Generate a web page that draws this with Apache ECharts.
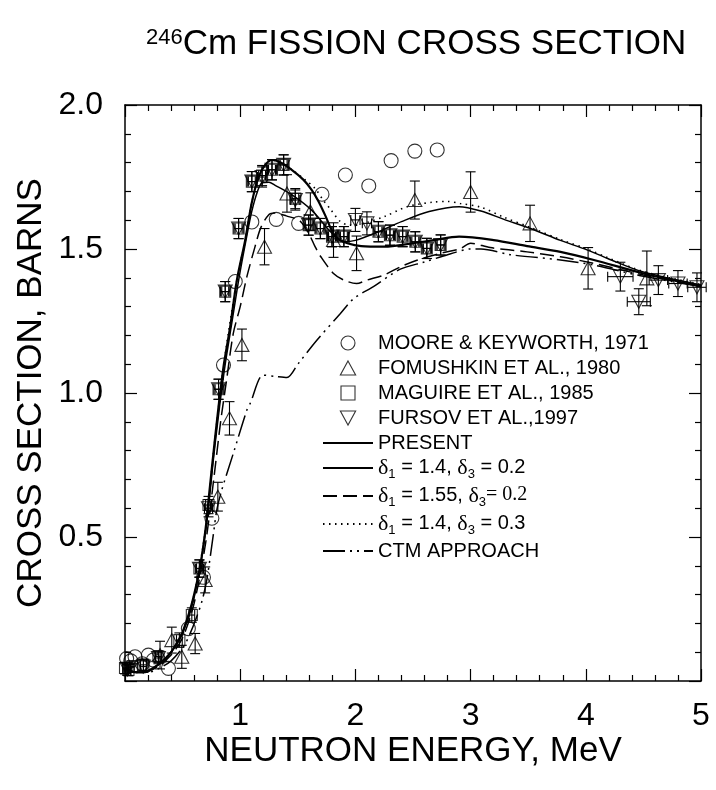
<!DOCTYPE html>
<html>
<head>
<meta charset="utf-8">
<script src="https://cdn.jsdelivr.net/npm/echarts@6/dist/echarts.min.js"></script>
<style>
html,body{margin:0;padding:0;background:#fff;}
#chart{width:716px;height:790px;}
</style>
</head>
<body>
<div id="chart"></div>
<script>
// ---------- DATA ----------
const xTicks = [0, 1, 2, 3, 4, 5];
const yTicks = [0, 0.5, 1.0, 1.5, 2.0];

// Moore & Keyworth, 1971  [E (MeV), sigma (b)]
const moore = [
  [0.014,0.078],[0.05,0.07],[0.087,0.084],[0.15,0.06],[0.203,0.09],[0.246,0.073],
  [0.377,0.044],[0.55,0.182],[0.681,0.36],[0.754,0.565],[0.855,1.097],[0.957,1.387],
  [1.101,1.594],[1.313,1.603],[1.507,1.589],[1.71,1.69],[1.913,1.757],[2.116,1.719],
  [2.31,1.807],[2.516,1.84],[2.71,1.844]
];
// Fomushkin et al., 1980  [E, sigma, dSigma]
const fomushkin = [
  [0.304,0.09,0.048],[0.406,0.142,0.045],[0.493,0.084,0.04],[0.609,0.13,0.035],
  [0.696,0.351,0.045],[0.806,0.64,0.05],[0.907,0.912,0.058],[1.015,1.167,0.055],
  [1.211,1.508,0.063],[1.406,1.693,0.065],[1.609,1.63,0.065],[1.81,1.531,0.06],
  [2.01,1.485,0.06],[2.516,1.67,0.066],[3.0,1.698,0.07],[3.516,1.589,0.063],
  [4.02,1.433,0.072],[4.53,1.398,0.095]
];
// Maguire et al., 1985  [E, sigma, dE, dSigma]
const maguire = [
  [0.0,0.045,0.02,0.02],[0.03,0.038,0.02,0.02],[0.06,0.05,0.02,0.02],[0.16,0.056,0.025,0.02],
  [0.29,0.085,0.025,0.02],[0.472,0.142,0.025,0.025],[0.58,0.229,0.025,0.025],[0.646,0.391,0.025,0.03],
  [0.725,0.611,0.025,0.03],[0.812,1.013,0.03,0.035],[0.87,1.352,0.03,0.035],[0.986,1.571,0.03,0.035],
  [1.101,1.734,0.03,0.035],[1.19,1.755,0.03,0.035],[1.276,1.775,0.03,0.035],[1.377,1.792,0.03,0.035],
  [1.478,1.675,0.03,0.035],[1.594,1.583,0.03,0.035],[1.696,1.571,0.03,0.035],[1.797,1.543,0.03,0.035],
  [1.9,1.543,0.03,0.035],[2.2,1.56,0.03,0.035],[2.3,1.548,0.03,0.035],[2.41,1.543,0.03,0.035],
  [2.52,1.525,0.03,0.035],[2.62,1.502,0.03,0.035],[2.74,1.514,0.03,0.035]
];
// Fursov et al., 1997  [E, sigma, dE, dSigma]
const fursov = [
  [0.02,0.04,0.03,0.02],[0.16,0.05,0.03,0.02],[0.29,0.08,0.03,0.02],[0.646,0.39,0.035,0.03],
  [0.725,0.6,0.035,0.03],[0.812,1.013,0.04,0.035],[0.87,1.352,0.04,0.035],[0.986,1.571,0.04,0.035],
  [1.101,1.734,0.04,0.035],[1.19,1.75,0.04,0.035],[1.276,1.775,0.04,0.035],[1.377,1.792,0.04,0.035],
  [1.478,1.67,0.04,0.035],[1.594,1.583,0.04,0.035],[1.696,1.571,0.04,0.035],[1.797,1.543,0.04,0.035],
  [1.9,1.543,0.04,0.035],[2.0,1.601,0.04,0.04],[2.1,1.589,0.04,0.04],[2.2,1.56,0.04,0.035],
  [2.3,1.548,0.04,0.035],[2.41,1.543,0.04,0.035],[2.52,1.525,0.04,0.035],[2.62,1.502,0.04,0.035],
  [2.74,1.514,0.04,0.035],[4.3,1.404,0.11,0.05],[4.46,1.317,0.1,0.045],[4.63,1.392,0.08,0.05],
  [4.8,1.38,0.08,0.045],[4.965,1.367,0.08,0.05]
];

// Calculated curves [E, sigma]
const present = [
  [0.0,0.045],[0.05,0.035],[0.1,0.03],[0.15,0.03],[0.2,0.035],[0.3,0.06],[0.4,0.1],[0.464,0.142],
  [0.5,0.17],[0.565,0.247],[0.6,0.3],[0.652,0.397],[0.7,0.53],[0.725,0.628],[0.77,0.8],[0.812,0.953],
  [0.855,1.091],[0.913,1.23],[0.971,1.392],[1.043,1.53],[1.1,1.66],[1.16,1.75],[1.217,1.792],
  [1.276,1.809],[1.35,1.8],[1.45,1.774],[1.55,1.74],[1.62,1.705],[1.68,1.665],[1.74,1.615],
  [1.8,1.56],[1.85,1.535],[1.93,1.52],[2.05,1.51],[2.25,1.508],[2.5,1.52],[2.68,1.531],[2.9,1.543],
  [3.2,1.531],[3.49,1.51],[3.78,1.49],[4.07,1.462],[4.5,1.415],[5.0,1.37]
];
const d14d02 = [
  [0.0,0.045],[0.1,0.03],[0.2,0.035],[0.3,0.06],[0.4,0.1],[0.5,0.165],[0.6,0.29],[0.7,0.52],
  [0.77,0.78],[0.82,0.95],[0.87,1.1],[0.93,1.25],[0.99,1.4],[1.05,1.53],[1.1,1.63],[1.15,1.7],
  [1.19,1.73],[1.25,1.732],[1.3,1.722],[1.45,1.688],[1.62,1.635],[1.77,1.566],[1.85,1.535],
  [1.9,1.525],[2.0,1.53],[2.2,1.56],[2.4,1.595],[2.64,1.63],[2.9,1.647],[3.09,1.632],[3.29,1.603],
  [3.52,1.571],[3.78,1.53],[4.01,1.497],[4.19,1.467],[4.5,1.42],[5.0,1.375]
];
const d155d02 = [
  [0.0,0.045],[0.1,0.03],[0.2,0.033],[0.3,0.055],[0.4,0.09],[0.5,0.15],[0.6,0.27],[0.7,0.48],
  [0.77,0.7],[0.83,0.9],[0.88,1.04],[0.94,1.207],[1.0,1.30],[1.058,1.404],[1.13,1.51],[1.18,1.575],
  [1.25,1.62],[1.3,1.625],[1.4,1.615],[1.52,1.597],[1.6,1.55],[1.65,1.508],[1.7,1.473],[1.81,1.415],
  [1.9,1.392],[2.01,1.38],[2.1,1.392],[2.25,1.41],[2.39,1.438],[2.54,1.462],[2.74,1.485],[2.91,1.501],
  [3.0,1.52],[3.17,1.505],[3.49,1.49],[3.78,1.473],[4.07,1.45],[4.5,1.41],[5.0,1.37]
];
const d14d03 = [
  [0.0,0.045],[0.05,0.035],[0.1,0.03],[0.15,0.03],[0.2,0.035],[0.3,0.06],[0.4,0.1],[0.5,0.17],
  [0.6,0.3],[0.7,0.53],[0.77,0.8],[0.855,1.091],[0.971,1.392],[1.043,1.53],[1.1,1.66],[1.16,1.75],
  [1.217,1.792],[1.276,1.809],[1.35,1.80],[1.45,1.775],[1.565,1.74],[1.65,1.71],[1.72,1.67],
  [1.78,1.64],[1.87,1.595],[1.95,1.583],[2.01,1.583],[2.1,1.592],[2.25,1.612],[2.45,1.647],
  [2.68,1.663],[2.8,1.665],[2.91,1.658],[3.09,1.645],[3.29,1.61],[3.52,1.575],[3.78,1.533],
  [4.01,1.5],[4.19,1.47],[4.5,1.422],[5.0,1.377]
];
const ctm = [
  [0.0,0.045],[0.1,0.03],[0.2,0.03],[0.3,0.045],[0.4,0.07],[0.507,0.119],[0.56,0.16],[0.623,0.223],
  [0.67,0.28],[0.71,0.351],[0.768,0.512],[0.797,0.594],[0.84,0.663],[0.94,0.79],[1.058,0.941],
  [1.087,0.964],[1.2,1.062],[1.3,1.058],[1.406,1.054],[1.5,1.1],[1.667,1.184],[1.87,1.276],
  [1.986,1.328],[2.16,1.37],[2.39,1.43],[2.6,1.455],[2.8,1.48],[3.0,1.5],[3.09,1.50],[3.35,1.48],
  [3.78,1.462],[4.07,1.444],[4.5,1.405],[5.0,1.37]
];

const names = {
  moore: 'MOORE & KEYWORTH, 1971',
  fom: 'FOMUSHKIN ET AL., 1980',
  mag: 'MAGUIRE ET AL., 1985',
  fur: 'FURSOV ET AL.,1997',
  present: 'PRESENT',
  a: 'd1=1.4,d3=0.2',
  b: 'd1=1.55,d3=0.2',
  c: 'd1=1.4,d3=0.3',
  ctm: 'CTM APPROACH'
};

// ---------- CHART ----------
const FONT = 'Liberation Sans, Arial, Helvetica, sans-serif';
const chart = echarts.init(document.getElementById('chart'), null, {renderer: 'canvas'});

const SYM_TRI_UP = 'path://M6,0L12,11L0,11Z';
const SYM_TRI_DN = 'path://M0,0L12,0L6,11Z';
const SYM_SQ = 'path://M0,0L10,0L10,10L0,10Z';

function errRender(params, api) {
  const x = api.value(0), y = api.value(1), dx = api.value(2), dy = api.value(3);
  const st = {stroke: '#000', lineWidth: 1.1, fill: null};
  const ch = [];
  const cap = 5;
  if (dy > 0) {
    const a = api.coord([x, y - dy]), b = api.coord([x, y + dy]);
    ch.push({type: 'line', shape: {x1: a[0], y1: a[1], x2: b[0], y2: b[1]}, style: st});
    ch.push({type: 'line', shape: {x1: a[0]-cap, y1: a[1], x2: a[0]+cap, y2: a[1]}, style: st});
    ch.push({type: 'line', shape: {x1: b[0]-cap, y1: b[1], x2: b[0]+cap, y2: b[1]}, style: st});
  }
  if (dx > 0) {
    const a = api.coord([x - dx, y]), b = api.coord([x + dx, y]);
    ch.push({type: 'line', shape: {x1: a[0], y1: a[1], x2: b[0], y2: b[1]}, style: st});
    ch.push({type: 'line', shape: {x1: a[0], y1: a[1]-cap, x2: a[0], y2: a[1]+cap}, style: st});
    ch.push({type: 'line', shape: {x1: b[0], y1: b[1]-cap, x2: b[0], y2: b[1]+cap}, style: st});
  }
  return {type: 'group', children: ch};
}

const axisCommonX = {
  type: 'value', min: xTicks[0], max: xTicks[xTicks.length-1], interval: 1,
  axisLine: {show: true, onZero: false, lineStyle: {color: '#000', width: 1.5}},
  axisTick: {show: true, inside: true, length: 12, lineStyle: {color: '#000', width: 1.2}},
  minorTick: {show: true, splitNumber: 5, length: 6, lineStyle: {color: '#000', width: 1.2}},
  splitLine: {show: false}, minorSplitLine: {show: false}
};
const axisCommonY = {
  type: 'value', min: yTicks[0], max: yTicks[yTicks.length-1], interval: 0.5,
  axisLine: {show: true, onZero: false, lineStyle: {color: '#000', width: 1.5}},
  axisTick: {show: true, inside: true, length: 12, lineStyle: {color: '#000', width: 1.2}},
  minorTick: {show: true, splitNumber: 5, length: 6, lineStyle: {color: '#000', width: 1.2}},
  splitLine: {show: false}, minorSplitLine: {show: false}
};

const legendText = {
  fontFamily: FONT, fontSize: 20, color: '#000',
  rich: {
    t: {fontFamily: FONT, fontSize: 20, lineHeight: 22, verticalAlign: 'top', color: '#000'},
    d: {fontFamily: 'Liberation Serif, serif', fontSize: 22, lineHeight: 22, verticalAlign: 'top', color: '#000'},
    s: {fontFamily: FONT, fontSize: 13, lineHeight: 13, padding: [11, 0, 0, 0], verticalAlign: 'top', color: '#000'},
    r: {fontFamily: 'Liberation Serif, serif', fontSize: 20, lineHeight: 22, verticalAlign: 'top', color: '#000'}
  }
};
function legendFmt(n) {
  if (n === names.a) return '{d|δ}{s|1}{t| = 1.4, }{d|δ}{s|3}{t| = 0.2}';
  if (n === names.b) return '{d|δ}{s|1}{t| = 1.55, }{d|δ}{s|3}{r|= 0.2}';
  if (n === names.c) return '{d|δ}{s|1}{t| = 1.4, }{d|δ}{s|3}{t| = 0.3}';
  return n;
}

const lineSeries = (name, data, width, dash) => ({
  name, type: 'line', data, xAxisIndex: 0, yAxisIndex: 0,
  symbol: 'circle', showSymbol: false, smooth: 0.3, silent: true,
  itemStyle: {color: '#000', opacity: 0},
  lineStyle: {color: '#000', width, type: dash},
  z: 3
});

const option = {
  backgroundColor: '#fff',
  animation: false,
  textStyle: {fontFamily: FONT},
  title: {
    text: '{sup|246}{m|Cm FISSION CROSS SECTION}',
    left: 141, top: 22,
    textStyle: {
      fontWeight: 'normal',
      rich: {
        sup: {fontFamily: FONT, fontWeight: 'normal', fontSize: 22, verticalAlign: 'top', lineHeight: 38, color: '#000', padding: [0, 0, 13, 0]},
        m: {fontFamily: FONT, fontWeight: 'normal', fontSize: 35, lineHeight: 38, verticalAlign: 'top', color: '#000'}
      }
    }
  },
  grid: {left: 125, right: 15, top: 105, bottom: 109, containLabel: false},
  xAxis: [
    Object.assign({}, axisCommonX, {
      position: 'bottom',
      axisLabel: {show: true, fontSize: 32, color: '#000', fontFamily: FONT, margin: 19,
        formatter: v => (v === 0 ? '' : String(v))},
      name: 'NEUTRON ENERGY, MeV', nameLocation: 'middle', nameGap: 53, nameMoveOverlap: false,
      nameTextStyle: {fontSize: 35, color: '#000', fontFamily: FONT}
    }),
    Object.assign({}, axisCommonX, {position: 'top', axisLabel: {show: false}})
  ],
  yAxis: [
    Object.assign({}, axisCommonY, {
      position: 'left',
      axisLabel: {show: true, fontSize: 32, color: '#000', fontFamily: FONT, margin: 22,
        formatter: v => (v === 0 ? '' : v.toFixed(1))},
      name: 'CROSS SECTION, BARNS', nameLocation: 'middle', nameGap: 76, nameMoveOverlap: false,
      nameTextStyle: {fontSize: 35, color: '#000', fontFamily: FONT}
    }),
    Object.assign({}, axisCommonY, {position: 'right', axisLabel: {show: false}})
  ],
  legend: [
    {
      orient: 'vertical', left: 317, top: 328, itemWidth: 50, itemHeight: 14, itemGap: 5,
      selectedMode: false, symbolKeepAspect: true, textStyle: Object.assign({}, legendText, {lineHeight: 20}),
      itemStyle: {borderWidth: 1.1},
      data: [names.moore, names.fom, names.mag, names.fur,
        {name: names.present, itemStyle: {opacity: 0}}]
    },
    {
      orient: 'vertical', left: 317, top: 452, itemWidth: 50, itemHeight: 14, itemGap: 4,
      selectedMode: false, textStyle: legendText, formatter: legendFmt,
      data: [{name: names.a, itemStyle: {opacity: 0}}, {name: names.b, itemStyle: {opacity: 0}},
        {name: names.c, itemStyle: {opacity: 0}}, {name: names.ctm, itemStyle: {opacity: 0}}]
    }
  ],
  series: [
    lineSeries(names.present, present, 2.2, 'solid'),
    lineSeries(names.a, d14d02, 1.5, 'solid'),
    lineSeries(names.b, d155d02, 1.5, [14, 6]),
    lineSeries(names.c, d14d03, 1.6, [1.5, 4.5]),
    lineSeries(names.ctm, ctm, 1.5, [22, 5, 2, 5, 2, 5]),
    {
      type: 'custom', renderItem: errRender, silent: true, z: 4,
      encode: {x: 0, y: 1},
      data: fomushkin.map(p => [p[0], p[1], 0, p[2]])
    },
    {
      type: 'custom', renderItem: errRender, silent: true, z: 4,
      encode: {x: 0, y: 1},
      data: maguire.map(p => [p[0], p[1], p[2], p[3]])
    },
    {
      type: 'custom', renderItem: errRender, silent: true, z: 4,
      encode: {x: 0, y: 1},
      data: fursov.map(p => [p[0], p[1], p[2], p[3]])
    },
    {
      name: names.moore, type: 'scatter', data: moore, symbol: 'circle', symbolSize: 14, silent: true, z: 5,
      itemStyle: {color: 'transparent', borderColor: '#000', borderWidth: 1.1}
    },
    {
      name: names.fom, type: 'scatter', data: fomushkin.map(p => [p[0], p[1]]), symbol: SYM_TRI_UP, symbolSize: [14, 13], silent: true, z: 5,
      itemStyle: {color: 'transparent', borderColor: '#000', borderWidth: 1.1}
    },
    {
      name: names.mag, type: 'scatter', data: maguire.map(p => [p[0], p[1]]), symbol: SYM_SQ, symbolSize: 11, silent: true, z: 5,
      itemStyle: {color: 'transparent', borderColor: '#000', borderWidth: 1.1}
    },
    {
      name: names.fur, type: 'scatter', data: fursov.map(p => [p[0], p[1]]), symbol: SYM_TRI_DN, symbolSize: [14, 13], silent: true, z: 5,
      itemStyle: {color: 'transparent', borderColor: '#000', borderWidth: 1.1}
    }
  ]
};
chart.setOption(option);
</script>
</body>
</html>
